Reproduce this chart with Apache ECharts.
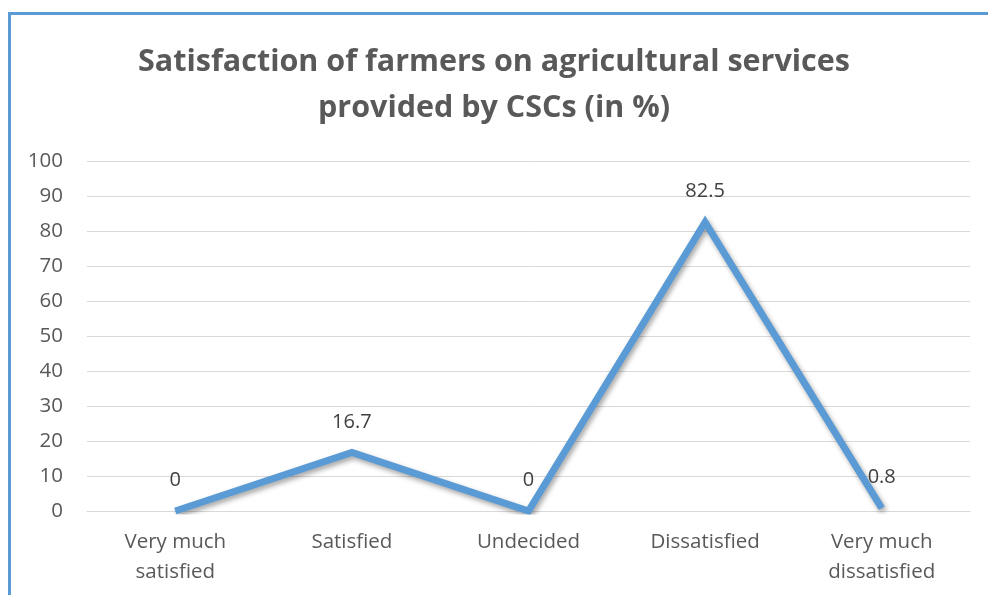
<!DOCTYPE html>
<html><head><meta charset="utf-8">
<script src="https://cdn.jsdelivr.net/npm/echarts@6/dist/echarts.min.js"></script>
<style>
html,body{margin:0;padding:0;background:#fff;}
#frame{position:absolute;left:8px;top:12px;width:980px;height:583px;border-top:3px solid #5b9bd5;border-left:3px solid #5b9bd5;box-sizing:border-box;}
#c{position:absolute;left:0;top:0;width:988px;height:595px;}
</style></head>
<body>
<div id="frame"></div>
<div id="c"></div>
<script>
const categories = ['Very much\nsatisfied', 'Satisfied', 'Undecided', 'Dissatisfied', 'Very much\ndissatisfied'];
const values = [0, 16.7, 0, 82.5, 0.8];
const yTicks = {min: 0, max: 100, interval: 10};
const titleText = 'Satisfaction of farmers on agricultural services\nprovided by CSCs (in %)';

const chart = echarts.init(document.getElementById('c'));
chart.setOption({
  backgroundColor: 'transparent',
  animation: false,
  title: {
    text: titleText,
    left: 'center', top: 34,
    textStyle: {fontFamily: 'Open Sans', fontSize: 30.5, fontWeight: 'bold', color: '#595959', lineHeight: 46}
  },
  grid: {left: 87, right: 18, top: 161, bottom: 84, containLabel: false},
  xAxis: {
    type: 'category', data: categories, boundaryGap: true,
    axisLine: {show: true, lineStyle: {color: '#d9d9d9', width: 1}},
    axisTick: {show: false},
    axisLabel: {fontFamily: 'Open Sans', fontSize: 20.5, color: '#595959', margin: 16, lineHeight: 30, interval: 0}
  },
  yAxis: {
    type: 'value', min: yTicks.min, max: yTicks.max, interval: yTicks.interval,
    axisLine: {show: false}, axisTick: {show: false},
    splitLine: {lineStyle: {color: '#d9d9d9', width: 1}},
    axisLabel: {fontFamily: 'Open Sans', fontSize: 20.5, color: '#595959', margin: 24}
  },
  series: [{
    type: 'line', data: values, symbol: 'circle', symbolSize: 1, showSymbol: true,
    itemStyle: {color: '#5b9bd5'},
    lineStyle: {color: '#5b9bd5', width: 7, shadowColor: 'rgba(0,0,0,0.35)', shadowBlur: 5, shadowOffsetX: 2, shadowOffsetY: 3, join: 'miter'},
    label: {show: true, position: 'top', distance: 20, fontFamily: 'Open Sans', fontSize: 20, color: '#404040'},
    labelLayout: {hideOverlap: false}
  }]
});
</script>
</body></html>
